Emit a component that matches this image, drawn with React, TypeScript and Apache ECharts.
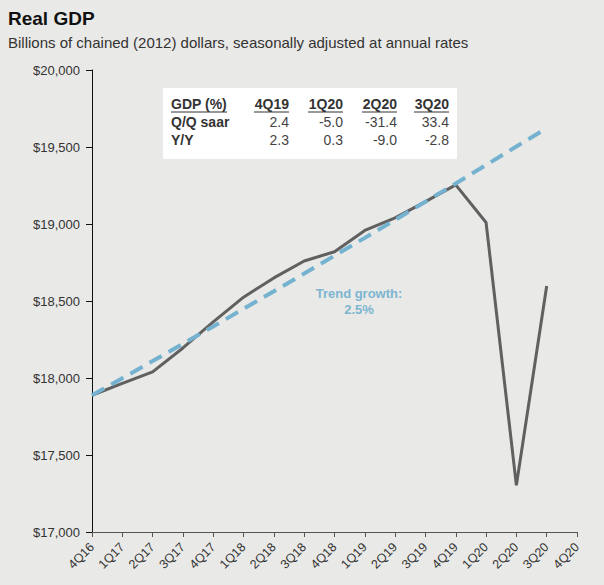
import React, { useEffect, useRef } from "react";
import * as echarts from "echarts";

const quarters = [
  "4Q16", "1Q17", "2Q17", "3Q17", "4Q17", "1Q18", "2Q18", "3Q18", "4Q18",
  "1Q19", "2Q19", "3Q19", "4Q19", "1Q20", "2Q20", "3Q20", "4Q20",
];
const realGdp = [
  17888, 17965, 18040, 18195, 18365, 18525, 18650, 18760, 18820,
  18958, 19040, 19145, 19254, 19010, 17303, 18597, null,
];
const trendGdp = [
  17888, 17999, 18110, 18222, 18335, 18449, 18563, 18678, 18794,
  18910, 19027, 19145, 19263, 19383, 19503, 19623, null,
];
const yTicks = { min: 17000, max: 20000, interval: 500 };

const tableHeader = ["GDP (%)", "4Q19", "1Q20", "2Q20", "3Q20"];
const tableRows = [
  { label: "Q/Q saar", values: ["2.4", "-5.0", "-31.4", "33.4"] },
  { label: "Y/Y", values: ["2.3", "0.3", "-9.0", "-2.8"] },
];

const FONT = "'Liberation Sans', Arial, sans-serif";

export default function App() {
  const ref = useRef<HTMLDivElement>(null);
  useEffect(() => {
    document.body.style.margin = "0";
    document.body.style.background = "#e9e9e7";
    const chart = echarts.init(ref.current!, null, { renderer: "svg" });

    const colRight = [289, 343, 397, 449];
    const rowY = [104, 122, 140];
    const headerWidths = [56, 35, 35, 35, 35];
    const graphics: any[] = [
      { type: "rect", shape: { x: 163, y: 88, width: 294, height: 71 }, style: { fill: "#ffffff" }, z: 10 },
    ];
    graphics.push({
      type: "text", x: 171, y: rowY[0], z: 11,
      style: { text: tableHeader[0], font: `bold 14px ${FONT}`, fill: "#333", textVerticalAlign: "middle", textAlign: "left" },
    });
    graphics.push({
      type: "line", z: 11, shape: { x1: 171, y1: rowY[0] + 8, x2: 171 + headerWidths[0], y2: rowY[0] + 8 },
      style: { stroke: "#333", lineWidth: 1 },
    });
    for (let i = 1; i < tableHeader.length; i++) {
      graphics.push({
        type: "text", x: colRight[i - 1], y: rowY[0], z: 11,
        style: { text: tableHeader[i], font: `bold 14px ${FONT}`, fill: "#333", textVerticalAlign: "middle", textAlign: "right" },
      });
      graphics.push({
        type: "line", z: 11,
        shape: { x1: colRight[i - 1] - headerWidths[i], y1: rowY[0] + 8, x2: colRight[i - 1], y2: rowY[0] + 8 },
        style: { stroke: "#333", lineWidth: 1 },
      });
    }
    tableRows.forEach((row, r) => {
      graphics.push({
        type: "text", x: 171, y: rowY[r + 1], z: 11,
        style: { text: row.label, font: `bold 14px ${FONT}`, fill: "#333", textVerticalAlign: "middle", textAlign: "left" },
      });
      row.values.forEach((v, c) => {
        graphics.push({
          type: "text", x: colRight[c], y: rowY[r + 1], z: 11,
          style: { text: v, font: `14px ${FONT}`, fill: "#444", textVerticalAlign: "middle", textAlign: "right" },
        });
      });
    });
    graphics.push({
      type: "text", x: 359, y: 293, z: 11,
      style: { text: "Trend growth:", font: `bold 13px ${FONT}`, fill: "#7db5d1", textAlign: "center", textVerticalAlign: "middle" },
    });
    graphics.push({
      type: "text", x: 359, y: 309, z: 11,
      style: { text: "2.5%", font: `bold 13px ${FONT}`, fill: "#7db5d1", textAlign: "center", textVerticalAlign: "middle" },
    });

    chart.setOption({
      animation: false,
      backgroundColor: "#e9e9e7",
      textStyle: { fontFamily: FONT },
      title: {
        text: "Real GDP",
        subtext: "Billions of chained (2012) dollars, seasonally adjusted at annual rates",
        left: 8,
        top: 9,
        padding: 0,
        itemGap: 7,
        textStyle: { fontSize: 19, fontWeight: "bold", color: "#111", fontFamily: FONT },
        subtextStyle: { fontSize: 15, color: "#333", fontFamily: FONT },
      },
      grid: { left: 92, right: 27, top: 70, bottom: 53, containLabel: false },
      xAxis: {
        type: "category",
        data: quarters,
        boundaryGap: false,
        axisLine: { lineStyle: { color: "#555", width: 1 } },
        axisTick: { show: true, length: 5, inside: false, lineStyle: { color: "#555" } },
        axisLabel: { rotate: 45, fontSize: 12.5, color: "#333", margin: 13, interval: 0, fontFamily: FONT },
        splitLine: { show: false },
      },
      yAxis: {
        type: "value",
        min: yTicks.min,
        max: yTicks.max,
        interval: yTicks.interval,
        axisLine: { show: true, lineStyle: { color: "#111", width: 1 } },
        axisTick: { show: true, length: 6, lineStyle: { color: "#111" } },
        axisLabel: {
          fontSize: 13,
          color: "#333",
          margin: 12,
          fontFamily: FONT,
          formatter: (v: number) => "$" + v.toLocaleString("en-US"),
        },
        splitLine: { show: false },
      },
      series: [
        {
          name: "Real GDP",
          type: "line",
          data: realGdp,
          showSymbol: false,
          lineStyle: { color: "#606060", width: 3 },
          z: 3,
        },
        {
          name: "Trend",
          type: "line",
          data: trendGdp,
          showSymbol: false,
          lineStyle: { color: "#74b2d0", width: 4, type: [14, 8] },
          z: 4,
        },
      ],
      graphic: graphics,
    });
    return () => chart.dispose();
  }, []);
  return (
    <div
      ref={ref}
      style={{ position: "absolute", left: 0, top: 0, width: 604, height: 585, background: "#e9e9e7" }}
    />
  );
}
